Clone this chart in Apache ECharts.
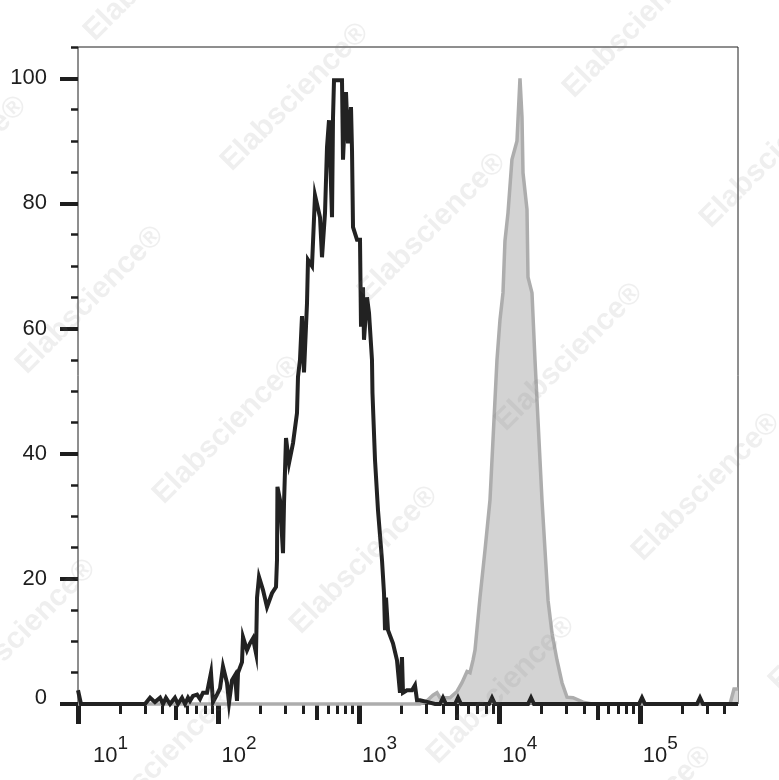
<!DOCTYPE html>
<html>
<head>
<meta charset="utf-8">
<script src="https://cdn.jsdelivr.net/npm/echarts@6/dist/echarts.min.js"></script>
<style>
html,body{margin:0;padding:0;background:#fff;}
#chart{width:779px;height:780px;}
</style>
</head>
<body>
<div id="chart"></div>
<script>
// ---- data ----
const xMajorTicks = [10, 100, 1000, 10000, 100000];
const xMidTicks = [50, 500, 5000, 50000];
const xMinorTicks = [20, 30, 40, 60, 70, 80, 90,
  200, 300, 400, 600, 700, 800, 900,
  2000, 3000, 4000, 6000, 7000, 8000, 9000,
  20000, 30000, 40000, 60000, 70000, 80000, 90000,
  200000, 300000, 400000];
const yMajorTicks = [0, 20, 40, 60, 80, 100];
const yMinorTicks = [5, 10, 15, 25, 30, 35, 45, 50, 55, 65, 70, 75, 85, 90, 95, 105];

// black (unfilled) histogram: [fluorescence, % of max]
const blackHistogram = [
  [10,2.2],[10.5,0],[30.0,0],[32.6,1],[35.3,0.3],[38.4,1],[40.3,0],[42.3,1],[45.2,0],[49.0,1],
  [51.5,0],[55.0,1],[57.8,0],[60.7,1],[62.7,0.5],[65.9,1.3],[70.4,1.5],[73.9,0.8],[77.6,1.8],[82.9,1.8],
  [88.5,5],[91.4,0.3],[97.6,1.5],[102.6,2.5],[107.7,6],[115.0,3.4],[118.9,0.2],[124.9,3.8],[131.2,4.6],[135.5,0.5],
  [137.8,5],[147.1,6.7],[149.5,10.7],[159.7,8.6],[167.7,9.7],[176.2,10.5],[185.1,8.1],[188.2,17],[194.4,20.3],[207.6,18.2],
  [221.6,15.5],[240.5,17.7],[256.9,18.7],[261.1,23],[263,34.7],[274.3,32.6],[288.1,24.1],[292.9,32],[302.6,42.5],[317.9,38.5],
  [339.5,41.7],[362.4,46.5],[368.4,52.3],[380.6,55],[393.3,62],[406.4,53],[426.9,64],[434.0,71],[463.4,70],[486.8,81.3],
  [528.4,77.8],[546.0,71.4],[573.6,78.5],[592.7,89],[612.4,93.3],[643.4,77.8],[654.0,93.7],[664.8,99.7],[710,99.7],[757.9,99.7],
  [770.4,87],[809.2,97.8],[836.2,89.6],[878.4,95.4],[893.0,88.5],[907.8,76.2],[969.1,74.2],[1018,74.2],[1035,60.3],[1069,66.6],
  [1087,58.2],[1142,65],[1180,62.5],[1239,55],[1249,49.7],[1302,39],[1367,31],[1460,23],[1509,17.7],[1534,11.8],
  [1559,17],[1611,11.8],[1748,9.7],[1867,7],[1961,1.8],[2026,7.5],[2060,1.8],[2199,2.2],[2388,2.2],[2507,3],
  [2591,0.6],[2722,0.6],[3103,0.3],[3482,0],[3779,0],[3968,1],[4166,0],[4834,0],[5076,1],[5330,0],
  [8438,0],[8860,1],[9303,0],[16000,0],[16800,1],[17640,0],[98670,0],[103600,1],[108800,0],[255400,0],
  [268200,1],[281600,0],[500000,0]
];

// grey (filled) histogram: [fluorescence, % of max]
const greyHistogram = [
  [10,0],[2722,0],[3052,0.5],[3369,1.4],[3596,1.8],[3778,1],[4238,1],[4451,1],[4993,2],[5418,3.4],
  [5884,5.2],[6178,5],[6492,7],[6706,8.6],[7278,17],[7901,24.6],[8575,32.6],[9616,55],[10100,61.4],[10610,65.7],
  [10960,74],[11520,78.5],[12290,87],[13350,90],[14020,100],[14490,93.8],[14730,84.9],[15730,79],[15990,68.2],[17070,65.7],
  [17930,55],[20110,32.6],[21130,24.6],[22200,16.6],[23700,11.3],[25730,7],[27920,3.4],[30300,1.1],[33440,1],[39390,0.3],
  [45640,0],[438500,0],[468300,2.4],[500000,2.4]
];

const xMin = 10, xMax = 500000, yMin = 0, yMax = 105;
const watermarkText = 'Elabscience®';

// ---- chart ----
const FONT = '"Liberation Sans", Arial, Helvetica, sans-serif';
const INK = '#1e1e1e';
const chart = echarts.init(document.getElementById('chart'), null, {renderer: 'canvas'});

function xAxisDef(ticks, len, width, withLabels) {
  return {
    type: 'log', logBase: 10, min: xMin, max: xMax, position: 'bottom',
    axisLine: {show: false, onZero: false},
    splitLine: {show: false}, minorTick: {show: false},
    axisTick: {show: true, customValues: ticks, length: len, lineStyle: {color: INK, width: width}},
    axisLabel: withLabels ? {
      show: true, customValues: ticks, margin: 30, align: 'left',
      formatter: function (v) {
        const e = Math.round(Math.log10(v));
        return (e === 1 ? '{b1|10}' : '{b|10}') + '{e|' + e + '}';
      },
      rich: {
        b: {fontSize: 22, fontFamily: FONT, color: INK, lineHeight: 33, verticalAlign: 'bottom', padding: [0, 0, 0, 3]},
        b1: {fontSize: 22, fontFamily: FONT, color: INK, lineHeight: 33, verticalAlign: 'bottom', padding: [0, 0, 0, 15]},
        e: {fontSize: 19, fontFamily: FONT, color: INK, lineHeight: 33, verticalAlign: 'top'}
      }
    } : {show: false}
  };
}
function yAxisDef(ticks, len, width, withLabels) {
  return {
    type: 'value', min: yMin, max: yMax, position: 'left',
    axisLine: {show: false, onZero: false},
    splitLine: {show: false}, minorTick: {show: false},
    axisTick: {show: true, customValues: ticks, length: len, lineStyle: {color: INK, width: width}},
    axisLabel: withLabels ? {
      show: true, customValues: ticks, margin: 31,
      fontSize: 22, fontFamily: FONT, color: INK,
      formatter: function (v) { return v === 0 ? '{z|0}' : String(v); },
      rich: {z: {fontSize: 22, fontFamily: FONT, color: INK, padding: [0, 0, 12, 0]}}
    } : {show: false}
  };
}

// faint diagonal watermark, as in the reference image
const graphics = [];
for (let i = -3; i <= 6; i++) {
  for (let j = -4; j <= 3; j++) {
    const cx = 295 + 137 * i + 205 * j;
    const cy = 97 + 130 * i - 203 * j;
    if (cx < -140 || cx > 920 || cy < -140 || cy > 920) continue;
    graphics.push({
      type: 'text', x: cx, y: cy, rotation: Math.PI / 4, z: 100, silent: true,
      style: {text: watermarkText, fontSize: 30, fontWeight: 'bold', fontFamily: FONT,
        fill: 'rgba(120,120,120,0.12)', align: 'center', verticalAlign: 'middle'}
    });
  }
}

chart.setOption({
  animation: false,
  backgroundColor: '#ffffff',
  grid: {left: 78, right: 41, top: 47, bottom: 76, show: true, borderColor: INK, borderWidth: 1, backgroundColor: 'transparent'},
  xAxis: [
    xAxisDef(xMajorTicks, 20, 5, true),
    xAxisDef(xMidTicks, 16, 4, false),
    xAxisDef(xMinorTicks, 10, 3, false)
  ],
  yAxis: [
    yAxisDef(yMajorTicks, 18, 4, true),
    yAxisDef(yMinorTicks, 7, 2.5, false)
  ],
  series: [
    {
      type: 'line', name: 'grey', xAxisIndex: 0, yAxisIndex: 0, data: greyHistogram,
      showSymbol: false, symbol: 'none', clip: false, z: 2,
      lineStyle: {color: '#adadad', width: 3.5, join: 'miter'},
      areaStyle: {color: '#d3d3d3', opacity: 1, origin: 'start'}
    },
    {
      type: 'line', name: 'black', xAxisIndex: 0, yAxisIndex: 0, data: blackHistogram,
      showSymbol: false, symbol: 'none', clip: false, z: 3,
      lineStyle: {color: '#222222', width: 4, join: 'miter'}
    }
  ],
  graphic: graphics
});
</script>
</body>
</html>
